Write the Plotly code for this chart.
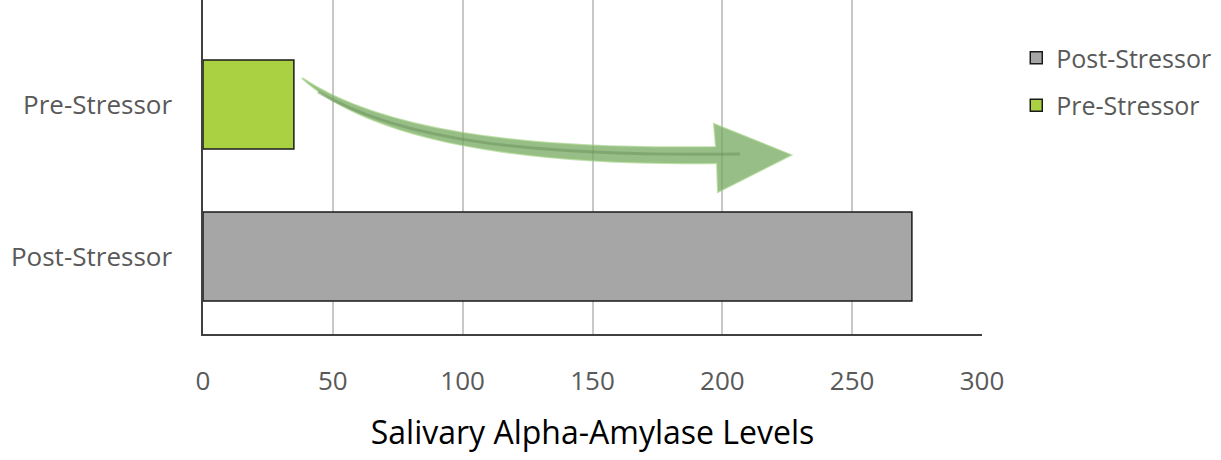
import plotly.graph_objects as go

categories = ["Post-Stressor", "Pre-Stressor"]
post_values = [273]
pre_values = [35]
x_ticks = [0, 50, 100, 150, 200, 250, 300]

GRAY_TXT = "#595959"
FONT = "Open Sans"

fig = go.Figure()
fig.add_trace(go.Bar(
    y=[categories[0]], x=post_values, orientation="h", name="Post-Stressor",
    marker=dict(color="#A6A6A6", line=dict(color="#1a1a1a", width=1.5)),
    width=0.585, legendgroup="a",
))
fig.add_trace(go.Bar(
    y=[categories[1]], x=pre_values, orientation="h", name="Pre-Stressor",
    marker=dict(color="#A9D142", line=dict(color="#1a1a1a", width=1.5)),
    width=0.585, legendgroup="b",
))

# decorative curved arrow (pixel-ish geometry mapped to axis units)
L, R, T, B = 203, 982, 0, 334
def px(x, y):
    xd = (x - L) / (R - L) * 300
    yd = (256.5 - y) / 152.0
    return f"{xd:.3f},{yd:.4f}"

path = (
    "M " + px(302, 78) +
    " C " + px(380, 130) + " " + px(520, 150) + " " + px(716, 147) +
    " L " + px(714, 124) +
    " L " + px(791, 155) +
    " L " + px(718, 192) +
    " L " + px(717, 163) +
    " C " + px(520, 166) + " " + px(370, 140) + " " + px(302, 78) + " Z"
)
fig.add_shape(type="path", path=path, xref="x", yref="y",
              fillcolor="rgba(118,168,95,0.75)",
              line=dict(color="rgba(150,200,120,0.6)", width=2), layer="above")
shaft = (
    "M " + px(318, 92) +
    " C " + px(400, 140) + " " + px(530, 157) + " " + px(740, 154)
)
fig.add_shape(type="path", path=shaft, xref="x", yref="y",
              line=dict(color="rgba(100,140,85,0.45)", width=3), layer="above")

fig.update_layout(
    width=1221, height=460,
    margin=dict(l=L, r=1221 - R, t=T, b=460 - B),
    paper_bgcolor="white", plot_bgcolor="white",
    font=dict(family=FONT, color=GRAY_TXT, size=25),
    barmode="overlay",
    showlegend=True,
    legend=dict(
        x=1.044, y=0.895, xanchor="left", yanchor="top",
        font=dict(size=25, color=GRAY_TXT, family=FONT),
        traceorder="grouped", tracegroupgap=12,
        bgcolor="rgba(0,0,0,0)",
    ),
    xaxis=dict(
        range=[0, 300], tickvals=x_ticks, showgrid=True, gridcolor="#C8C8C8",
        gridwidth=1.5, zeroline=False, showline=True, linecolor="#404040",
        linewidth=1.5, ticks="", ticklabelstandoff=23,
        tickfont=dict(size=26, color=GRAY_TXT, family=FONT),
        title=dict(text="Salivary Alpha-Amylase Levels",
                   font=dict(size=32, color="#000000", family=FONT), standoff=25),
        mirror=False,
    ),
    yaxis=dict(
        type="category", categoryorder="array", categoryarray=categories,
        range=[-0.51, 1.6875], showgrid=False, zeroline=False,
        showline=True, linecolor="#404040", linewidth=1.5, ticks="",
        ticklabelstandoff=24,
        tickfont=dict(size=26, color=GRAY_TXT, family=FONT),
    ),
)

fig.write_html("out.html")
